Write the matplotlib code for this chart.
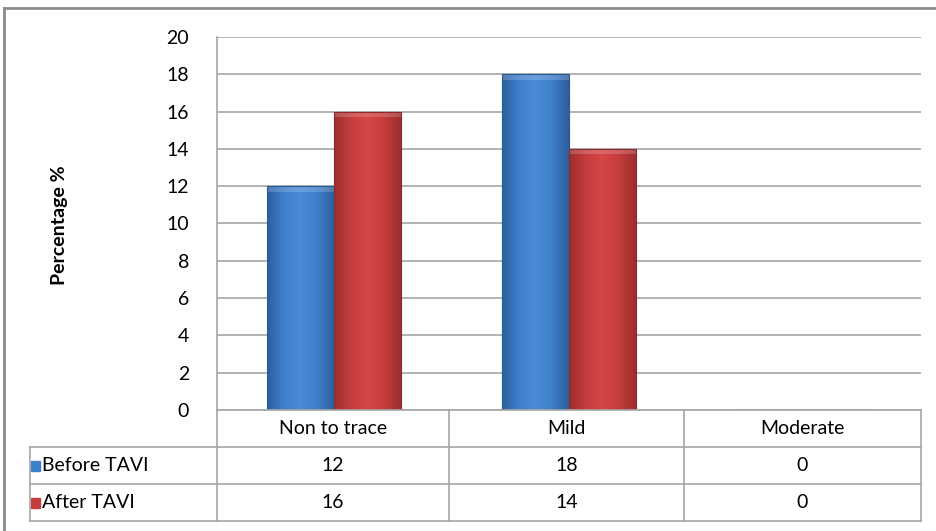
import numpy as np
import matplotlib.pyplot as plt
from matplotlib.colors import LinearSegmentedColormap
from matplotlib.patches import Rectangle

plt.rcParams['font.family'] = ['Lato', 'DejaVu Sans']

categories = ["Non to trace", "Mild", "Moderate"]
series_names = ["Before TAVI", "After TAVI"]
before = [12, 18, 0]
after = [16, 14, 0]
yticks = [0, 2, 4, 6, 8, 10, 12, 14, 16, 18, 20]

W, H = 936, 531
fig = plt.figure(figsize=(W / 100, H / 100), dpi=100)

def fx(px):
    return px / W

def fy(py):
    return 1 - py / H

# plot area in pixels
L, R, T, B = 217, 921, 37, 410
ax = fig.add_axes([fx(L), fy(B), fx(R - L), (B - T) / H])

blue_cm = LinearSegmentedColormap.from_list("b", ["#2c5f9e", "#3f80cc", "#4a8bd6", "#3f80cc", "#2c5f9e"])
red_cm = LinearSegmentedColormap.from_list("r", ["#9e2e2e", "#c63d3d", "#d54646", "#c63d3d", "#9e2e2e"])

x = np.arange(len(categories))
w = 0.285
for vals, off, cm, edge in [(before, -w / 2, blue_cm, "#2a5a94"), (after, w / 2, red_cm, "#8f2a2a")]:
    bars = ax.bar(x + off, vals, w, color="none", edgecolor=edge, linewidth=0.8, zorder=3)
    for b in bars:
        if b.get_height() <= 0:
            continue
        x0, y0 = b.get_x(), b.get_y()
        bw, bh = b.get_width(), b.get_height()
        grad = np.linspace(0, 1, 64)[None, :]
        im = ax.imshow(grad, extent=[x0, x0 + bw, y0, y0 + bh], cmap=cm, aspect="auto", zorder=2)
        im.set_clip_path(b)
        # light top bevel
        ax.add_patch(Rectangle((x0, y0 + bh - 0.3), bw, 0.3, color="white", alpha=0.18, zorder=2.5, lw=0))

ax.set_xlim(-0.5, 2.5)
ax.set_ylim(0, 20)
ax.set_yticks(yticks)
ax.set_yticklabels([str(t) for t in yticks], fontsize=14)
ax.tick_params(axis="y", length=0, pad=20)
ax.set_xticks([])
ax.yaxis.grid(True, color="#a6a6a6", linewidth=1.2)
ax.set_axisbelow(True)
for s in ["top", "right", "bottom"]:
    ax.spines[s].set_visible(False)
ax.spines["left"].set_color("#a6a6a6")
ax.spines["left"].set_linewidth(1.2)

fig.text(fx(60), fy(225), "Percentage %", rotation=90, ha="center", va="center",
         fontsize=14, fontweight="bold")

# data table below the plot
line_c = "#a6a6a6"
col_edges = [L, 449, 684, R]
row_edges = [B, 447, 484, 521]
tab_left = 30

def hline(y, x0, x1):
    fig.add_artist(plt.Line2D([fx(x0), fx(x1)], [fy(y), fy(y)], color=line_c, lw=1.2))

def vline(xp, y0, y1):
    fig.add_artist(plt.Line2D([fx(xp), fx(xp)], [fy(y0), fy(y1)], color=line_c, lw=1.2))

hline(row_edges[0], L, R)
for yy in row_edges[1:]:
    hline(yy, tab_left, R)
for xx in col_edges:
    vline(xx, row_edges[0], row_edges[-1])
vline(tab_left, row_edges[1], row_edges[-1])

for i, c in enumerate(categories):
    cx = (col_edges[i] + col_edges[i + 1]) / 2
    fig.text(fx(cx), fy((row_edges[0] + row_edges[1]) / 2), c, ha="center", va="center", fontsize=14)

marker_cols = ["#3f80cc", "#c63d3d"]
for r, (name, vals) in enumerate(zip(series_names, [before, after])):
    cy = (row_edges[r + 1] + row_edges[r + 2]) / 2
    fig.add_artist(Rectangle((fx(31), fy(cy + 5)), fx(9), 10 / H, color=marker_cols[r],
                             transform=fig.transFigure))
    fig.text(fx(42), fy(cy), name, ha="left", va="center", fontsize=14)
    for i, v in enumerate(vals):
        cx = (col_edges[i] + col_edges[i + 1]) / 2
        fig.text(fx(cx), fy(cy), str(v), ha="center", va="center", fontsize=14)

# outer chart border (top and left visible)
fig.add_artist(plt.Line2D([fx(4), 1], [fy(8), fy(8)], color="#8c8c8c", lw=2))
fig.add_artist(plt.Line2D([fx(4), fx(4)], [fy(8), 0], color="#8c8c8c", lw=2))

fig.savefig("out.png", dpi=100)
